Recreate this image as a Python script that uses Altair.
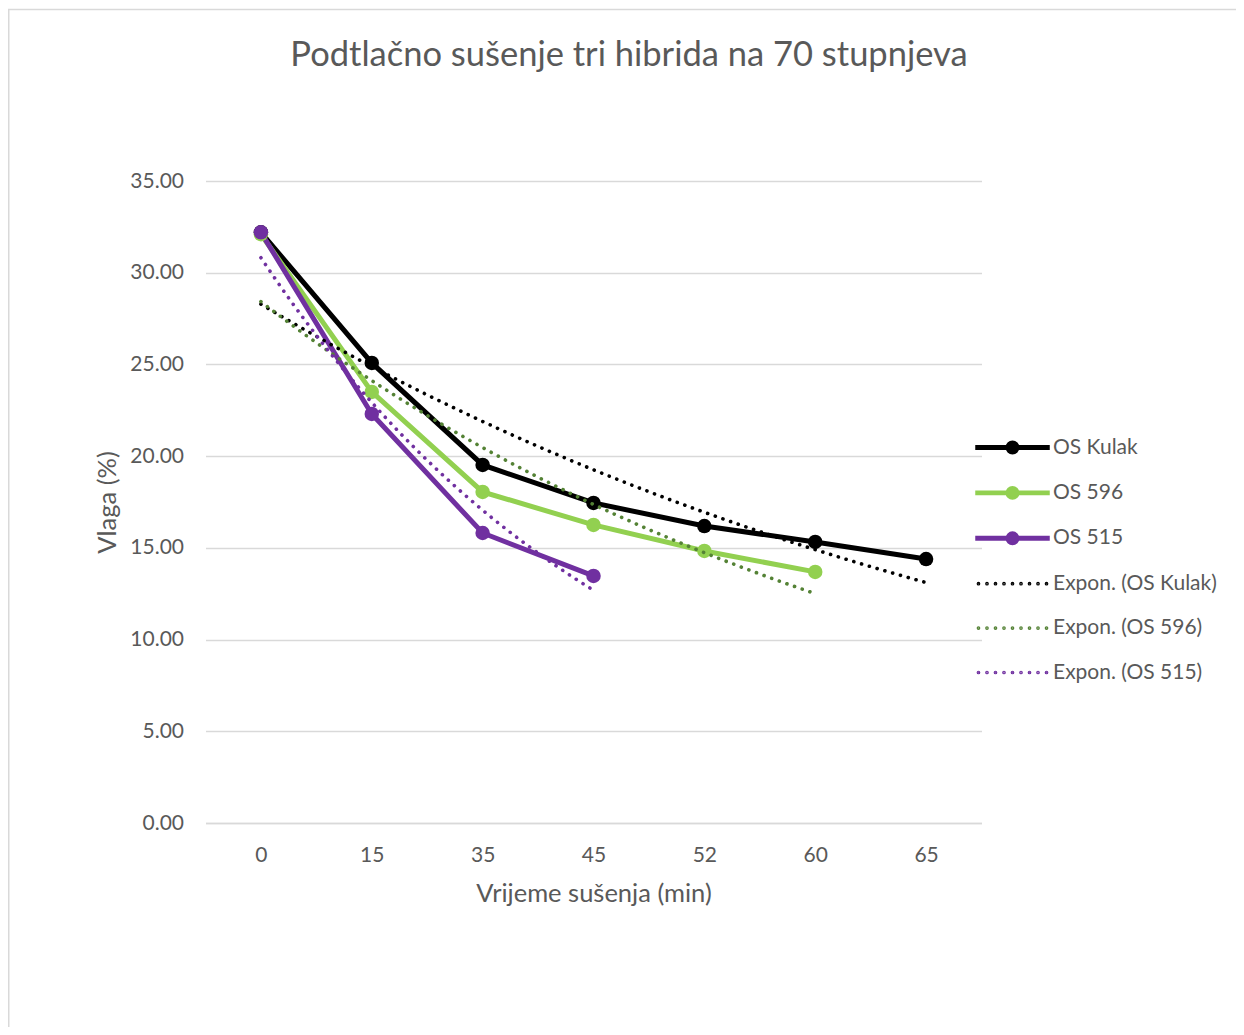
import json
import altair as alt
import numpy as np
import pandas as pd

# ---- data ----
times = ["0", "15", "35", "45", "52", "60", "65"]
series_names = ["OS Kulak", "OS 596", "OS 515"]
trend_names = ["Expon. (OS Kulak)", "Expon. (OS 596)", "Expon. (OS 515)"]
kulak = [32.2, 25.08, 19.52, 17.45, 16.19, 15.32, 14.39]
os596 = [32.1, 23.5, 18.05, 16.25, 14.83, 13.69]
os515 = [32.2, 22.3, 15.81, 13.47]
y_ticks = [0, 5, 10, 15, 20, 25, 30, 35]

line_colors = ["#000000", "#92D050", "#7030A0"]
trend_colors = ["#000000", "#548235", "#7030A0"]
title_text = "Podtlačno sušenje tri hibrida na 70 stupnjeva"

FONT = "Lato"
GREY = "#595959"
GRID = "#D9D9D9"

all_names = series_names + trend_names

rows = []
for name, vals in zip(series_names, [kulak, os596, os515]):
    for i, v in enumerate(vals):
        rows.append({"series": name, "idx": i + 1, "vlaga": v})
df = pd.DataFrame(rows)

# exponential trendlines (Excel style: fit ln(y) on category index 1..n)
trows = []
for tname, vals in zip(trend_names, [kulak, os596, os515]):
    xs = np.arange(1, len(vals) + 1)
    b, a = np.polyfit(xs, np.log(vals), 1)
    for g in np.linspace(1, len(vals), 60):
        trows.append({"series": tname, "idx": float(g), "vlaga": float(np.exp(a + b * g))})
tdf = pd.DataFrame(trows)

dummy = pd.DataFrame({"series": all_names, "idx": [None] * 6, "vlaga": [None] * 6})

# legend glyphs (unit = 6 px): line with a round marker / row of round dots
main_sym = ("M-6,-0.2L6,-0.2L6,0.2L-6,0.2Z"
            "M0.95,0A0.95,0.95,0,1,1,-0.95,0A0.95,0.95,0,1,1,0.95,0Z")
dot_parts = []
for k in range(9):
    cx = -5.67 + k * 1.4175
    r = 0.1
    dot_parts.append(f"M{cx + r:.3f},0A{r},{r},0,1,1,{cx - r:.3f},0A{r},{r},0,1,1,{cx + r:.3f},0Z")
dot_sym = "".join(dot_parts)

color_range = line_colors + trend_colors
stroke_scale = alt.Scale(domain=all_names, range=color_range)
fill_scale = alt.Scale(domain=all_names, range=color_range)
shape_scale = alt.Scale(domain=all_names, range=[main_sym] * 3 + [dot_sym] * 3)

W, H = 776, 642
PAD_L, PAD_T = 197.5, 173

x_enc = alt.X(
    "idx:Q",
    scale=alt.Scale(domain=[0.5, 7.5], nice=False, zero=False),
    axis=alt.Axis(
        values=list(range(1, 8)),
        labelExpr=f"{json.dumps(times)}[datum.value - 1]",
        grid=False, ticks=False, labelFlush=False,
        domainColor=GRID, domainWidth=1.3,
        labelFont=FONT, labelFontSize=21, labelColor=GREY, labelPadding=21,
        title="Vrijeme sušenja (min)", titleFont=FONT, titleFontSize=25.5,
        titleFontWeight="normal", titleColor=GREY,
        titleX=W / 2, titleY=70, titleBaseline="middle",
    ),
)
y_enc = alt.Y(
    "vlaga:Q",
    scale=alt.Scale(domain=[0, 35], nice=False, zero=True),
    axis=alt.Axis(
        values=y_ticks, format=".2f", ticks=False, domain=False,
        gridColor=GRID, gridWidth=1.3,
        labelFont=FONT, labelFontSize=21, labelColor=GREY, labelPadding=22,
        title="Vlaga (%)", titleFont=FONT, titleFontSize=25.5,
        titleFontWeight="normal", titleColor=GREY,
        titleX=-98.5, titleY=H / 2, titleBaseline="middle",
    ),
)

legend = alt.Legend(
    orient="none", legendX=766.5, legendY=256, title=None, padding=0,
    labelFont=FONT, labelFontSize=21, labelColor=GREY, labelLimit=400,
    symbolSize=144, symbolStrokeWidth=2.5, symbolOffset=30, labelOffset=30,
    rowPadding=22.4, symbolOpacity=1,
)

border = alt.Chart(alt.Data(values=[{"k": 1}])).mark_rect(
    fill="transparent", stroke=GRID, strokeWidth=1.5
).encode(
    x=alt.value(0.75 - PAD_L), x2=alt.value(1240), y=alt.value(1.5 - PAD_T), y2=alt.value(1000)
)

lines = alt.Chart(df).mark_line(strokeWidth=5).encode(
    x=x_enc, y=y_enc, stroke=alt.Stroke("series:N", scale=stroke_scale, legend=legend)
)
points = alt.Chart(df).mark_point(filled=True, size=210, opacity=1).encode(
    x=x_enc, y=y_enc, fill=alt.Fill("series:N", scale=fill_scale, legend=legend)
)
trend = alt.Chart(tdf).mark_line(strokeWidth=3.6, strokeCap="round", strokeDash=[0.1, 8]).encode(
    x=x_enc, y=y_enc, stroke=alt.Stroke("series:N", scale=stroke_scale, legend=legend)
)
legend_layer = alt.Chart(dummy).mark_point(filled=True, opacity=1).encode(
    x=x_enc, y=y_enc,
    fill=alt.Fill("series:N", scale=fill_scale, legend=legend),
    stroke=alt.Stroke("series:N", scale=stroke_scale, legend=legend),
    shape=alt.Shape("series:N", scale=shape_scale, legend=legend),
)
title = alt.Chart(alt.Data(values=[{"k": 1}])).mark_text(
    font=FONT, fontSize=34.5, color=GREY, align="center", baseline="middle"
).encode(x=alt.value(629 - 205.5), y=alt.value(53 - 178), text=alt.value(title_text))

chart = alt.layer(border, lines, points, trend, legend_layer, title).properties(
    width=W, height=H,
    autosize=alt.AutoSizeParams(type="none"),
    padding={"left": PAD_L, "top": PAD_T, "right": 1228 - PAD_L - W, "bottom": 1019 - PAD_T - H},
).configure_view(strokeWidth=0)

chart.save("out.html", embed_options={"renderer": "svg", "actions": False})
